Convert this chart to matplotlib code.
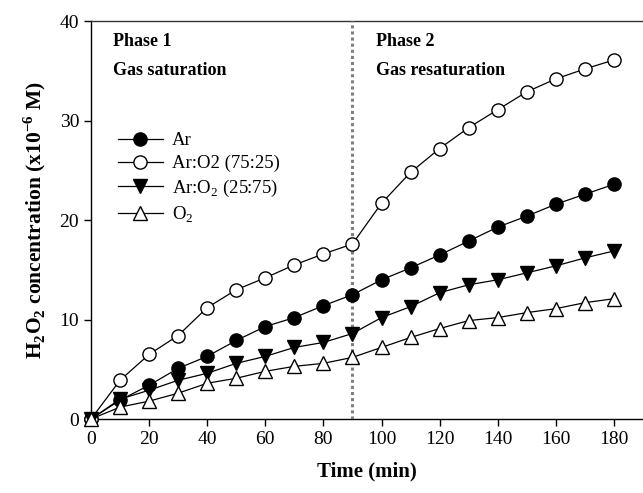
import numpy as np
import matplotlib
matplotlib.use("Agg")
import matplotlib.pyplot as plt

# time points (min)
time_min = [0, 10, 20, 30, 40, 50, 60, 70, 80, 90,
            100, 110, 120, 130, 140, 150, 160, 170, 180]

# H2O2 concentration (x10^-6 M)
ar = [0, 1.9, 3.4, 5.1, 6.3, 7.9, 9.3, 10.2, 11.4, 12.5,
      14.0, 15.2, 16.5, 17.9, 19.3, 20.4, 21.6, 22.6, 23.6]
ar_o2_75_25 = [0, 3.9, 6.5, 8.4, 11.2, 13.0, 14.2, 15.5, 16.6, 17.6,
               21.7, 24.8, 27.2, 29.3, 31.1, 32.9, 34.2, 35.2, 36.1]
ar_o2_25_75 = [0, 2.0, 2.9, 3.9, 4.6, 5.6, 6.3, 7.2, 7.7, 8.6,
               10.2, 11.3, 12.7, 13.5, 14.0, 14.7, 15.4, 16.2, 16.9]
o2 = [0, 1.2, 1.8, 2.6, 3.6, 4.1, 4.8, 5.3, 5.6, 6.2,
      7.2, 8.2, 9.1, 9.9, 10.2, 10.7, 11.1, 11.7, 12.1]

series_labels = ["Ar", "Ar:O2 (75:25)", "Ar:O$_2$ (25:75)", "O$_2$"]
phase_switch = 90

plt.rcParams["font.family"] = ["Liberation Serif", "DejaVu Serif"]
plt.rcParams["mathtext.fontset"] = "custom"
plt.rcParams["mathtext.rm"] = "Liberation Serif"
plt.rcParams["mathtext.bf"] = "Liberation Serif:bold"

fig = plt.figure(figsize=(6.43, 4.93), dpi=100)
ax = fig.add_axes([0.1415, 0.150, 0.8585, 0.807])

style = dict(color="black", lw=0.9, ms=9.5, mec="black", mew=1.0, clip_on=False)
ax.plot(time_min, ar, marker="o", mfc="black", label=series_labels[0], zorder=4, **style)
ax.plot(time_min, ar_o2_75_25, marker="o", mfc="white", label=series_labels[1], zorder=4, **style)
ax.plot(time_min, ar_o2_25_75, marker="v", mfc="black", label=series_labels[2], zorder=4, **style)
ax.plot(time_min, o2, marker="^", mfc="white", label=series_labels[3], zorder=4, **style)

ax.axvline(phase_switch, color="#7f7f7f", lw=2.2, ls=(0, (1, 1)), zorder=3)

ax.text(7.5, 38.0, "Phase 1", fontsize=13, fontweight="bold", va="center")
ax.text(7.5, 35.0, "Gas saturation", fontsize=13, fontweight="bold", va="center")
ax.text(98, 38.0, "Phase 2", fontsize=13, fontweight="bold", va="center")
ax.text(98, 35.0, "Gas resaturation", fontsize=13, fontweight="bold", va="center")

ax.set_xlim(0, 190)
ax.set_ylim(0, 40)
ax.set_xticks(np.arange(0, 181, 20))
ax.set_yticks(np.arange(0, 41, 10))
ax.tick_params(direction="out", length=5, width=1, labelsize=14)
ax.spines["right"].set_visible(False)
for s in ("left", "bottom", "top"):
    ax.spines[s].set_linewidth(1.0)
ax.spines["top"].set_color("#333333")

ax.set_xlabel("Time (min)", fontsize=15, fontweight="bold", labelpad=10)
ax.set_ylabel(r"H$_\mathbf{2}$O$_\mathbf{2}$ concentration (x10$^{\mathbf{-6}}$ M)",
              fontsize=15.5, fontweight="bold", labelpad=8)

ax.legend(loc="upper left", bbox_to_anchor=(0.035, 0.74), frameon=False,
          fontsize=13.5, handlelength=2.4, handletextpad=0.5, labelspacing=0.3,
          borderaxespad=0)

fig.savefig("out.png", dpi=100)
